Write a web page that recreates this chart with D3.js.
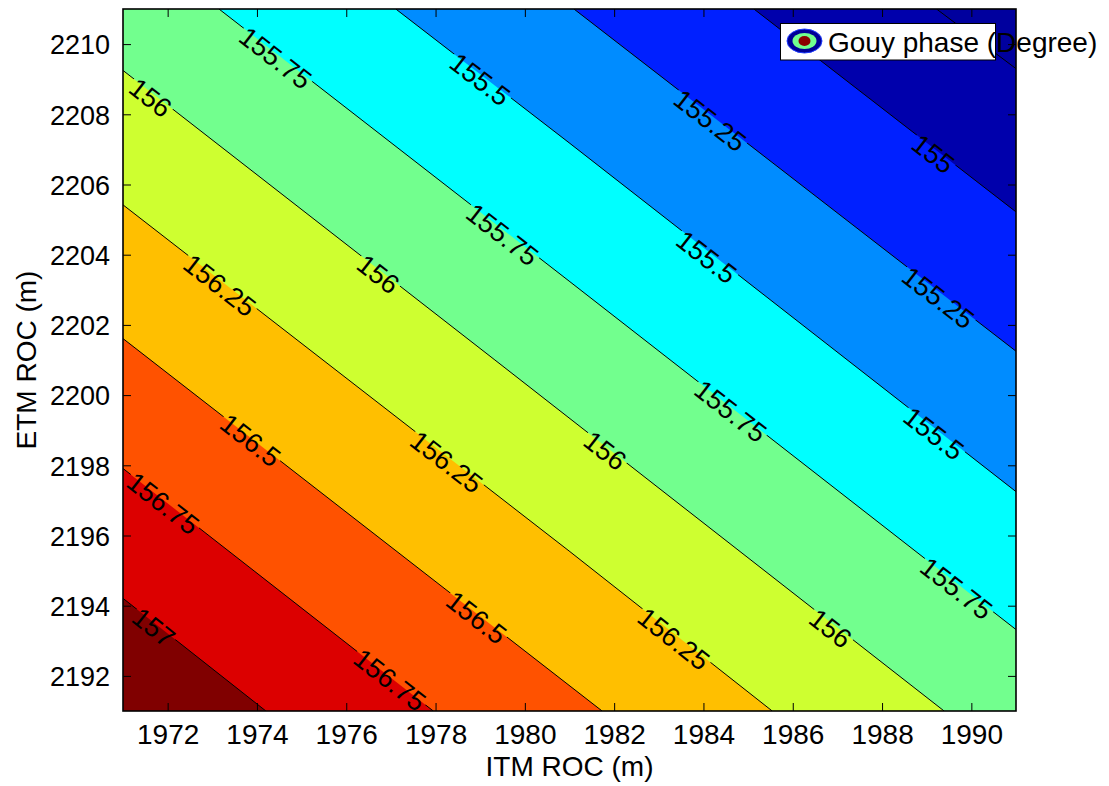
<!DOCTYPE html>
<html>
<head>
<meta charset="utf-8">
<script src="https://cdn.jsdelivr.net/npm/d3@7"></script>
<style>
  html, body { margin: 0; padding: 0; background: #ffffff; }
  svg { display: block; }
  text { font-family: 'Liberation Sans', Arial, Helvetica, sans-serif; fill: #000; }
</style>
</head>
<body>
<div id="chart"></div>
<script>
// ---------------- data ----------------
const levels = [154.75, 155, 155.25, 155.5, 155.75, 156, 156.25, 156.5, 156.75, 157];
// colour of the area below the first level, then the area above each level
const bandColors = ['#00009E', '#0000AC', '#0020FF', '#008CFF', '#00FFFF', '#72FF8E',
                    '#CEFF30', '#FFBF00', '#FF5200', '#DC0000', '#800000'];
// contour lines: ITM / ETM coordinates of the points along each level
const contourITM = [
  [1989.22, 1991],
  [1985.13, 1991],
  [1981.10, 1991],
  [1977.11, 1981.01, 1991],
  [1973.15, 1981.01, 1991],
  [1971, 1979.33, 1989.39],
  [1971, 1981.01, 1985.54],
  [1971, 1981.73],
  [1971, 1977.95],
  [1971, 1974.20]
];
const contourETM = [
  [2211, 2209.30],
  [2211, 2205.22],
  [2211, 2201.25],
  [2211, 2207.17, 2197.25],
  [2211, 2203.23, 2193.32],
  [2209.25, 2201.00, 2191],
  [2205.42, 2195.54, 2191],
  [2201.61, 2191],
  [2197.91, 2191],
  [2194.21, 2191]
];
// contour labels
const labelLevel = [155.75, 155.5, 156, 155.75, 156.25, 156, 155.25, 155, 155.5, 155.25,
                    156.5, 156.25, 156.75, 157, 156.5, 156.75, 155.75, 155.5, 156, 155.75, 156.25, 156];
const labelITM = [1974.42, 1979.00, 1971.62, 1979.50, 1973.17, 1976.72, 1984.15, 1989.15, 1984.07, 1989.26,
                  1973.86, 1978.25, 1971.90, 1971.69, 1978.92, 1976.98, 1984.61, 1989.16, 1981.80, 1989.67, 1983.34, 1986.85];
const labelETM = [2209.61, 2209.00, 2208.48, 2204.58, 2203.13, 2203.45, 2207.83, 2206.88, 2203.94, 2202.78,
                  2198.72, 2198.10, 2196.92, 2193.39, 2193.67, 2191.89, 2199.55, 2198.91, 2198.42, 2194.50, 2193.06, 2193.36];
const xTicks = [1972, 1974, 1976, 1978, 1980, 1982, 1984, 1986, 1988, 1990];
const yTicks = [2192, 2194, 2196, 2198, 2200, 2202, 2204, 2206, 2208, 2210];
const xDomain = [1971, 1991];
const yDomain = [2191, 2211];
const xTitle = 'ITM ROC (m)';
const yTitle = 'ETM ROC (m)';
const legendText = 'Gouy phase (Degree)';

// ---------------- layout ----------------
const W = 1109, H = 786;
const L = 123, R = 1016, T = 9, B = 711;
const x = d3.scaleLinear().domain(xDomain).range([L, R]);
const y = d3.scaleLinear().domain(yDomain).range([B, T]);

const svg = d3.select('#chart').append('svg').attr('width', W).attr('height', H);
svg.append('rect').attr('width', W).attr('height', H).attr('fill', '#fff');
const defs = svg.append('defs');
defs.append('clipPath').attr('id', 'plotclip')
  .append('rect').attr('x', L).attr('y', T).attr('width', R - L).attr('height', B - T);

const plot = svg.append('g').attr('clip-path', 'url(#plotclip)');

// filled bands
plot.append('rect').attr('x', L).attr('y', T).attr('width', R - L).attr('height', B - T)
  .attr('fill', bandColors[0]);

levels.forEach((lv, i) => {
  const pts = contourITM[i].map((xv, j) => [xv, contourETM[i][j]]);
  const start = pts[0], end = pts[pts.length - 1];
  const poly = pts.slice();
  if (end[0] >= xDomain[1]) poly.push([xDomain[1], yDomain[0]]);
  poly.push([xDomain[0], yDomain[0]]);
  if (start[1] >= yDomain[1]) poly.push([xDomain[0], yDomain[1]]);
  plot.append('path')
    .attr('d', 'M' + poly.map(p => x(p[0]) + ',' + y(p[1])).join('L') + 'Z')
    .attr('fill', bandColors[i + 1]);
});

// labels (measured first so their footprint can be masked out of the lines)
const mask = defs.append('mask').attr('id', 'lblmask')
  .attr('maskUnits', 'userSpaceOnUse').attr('x', 0).attr('y', 0).attr('width', W).attr('height', H);
mask.append('rect').attr('width', W).attr('height', H).attr('fill', '#fff');

const lineG = plot.append('g');
const labelG = plot.append('g');

function angleFor(level, px) {
  const i = levels.indexOf(level);
  const pts = contourITM[i].map((xv, j) => [x(xv), y(contourETM[i][j])]);
  let seg = 0;
  for (let k = 0; k < pts.length - 1; k++) { if (px >= pts[k][0]) seg = k; }
  const a = pts[seg], b = pts[seg + 1];
  return Math.atan2(b[1] - a[1], b[0] - a[0]) * 180 / Math.PI;
}

labelLevel.forEach((lv, i) => {
  const px = x(labelITM[i]), py = y(labelETM[i]);
  const ang = angleFor(lv, px);
  const t = labelG.append('text')
    .attr('transform', `translate(${px},${py}) rotate(${ang})`)
    .attr('text-anchor', 'middle')
    .attr('dy', '0.36em')
    .style('font-size', '27px')
    .text(String(lv));
  const w = t.node().getComputedTextLength();
  mask.append('rect')
    .attr('transform', `translate(${px},${py}) rotate(${ang})`)
    .attr('x', -w / 2 - 2).attr('y', -10).attr('width', w + 4).attr('height', 20)
    .attr('fill', '#000');
});

levels.forEach((lv, i) => {
  const pts = contourITM[i].map((xv, j) => [x(xv), y(contourETM[i][j])]);
  lineG.append('path')
    .attr('d', d3.line()(pts))
    .attr('fill', 'none').attr('stroke', '#000').attr('stroke-width', 1)
    .attr('mask', 'url(#lblmask)');
});

// axes with inward ticks on all four sides
const tick = 8;
const axB = svg.append('g').attr('transform', `translate(0,${B})`)
  .call(d3.axisBottom(x).tickValues(xTicks).tickSize(-tick).tickFormat(d3.format('d')));
const axT = svg.append('g').attr('transform', `translate(0,${T})`)
  .call(d3.axisTop(x).tickValues(xTicks).tickSize(-tick).tickFormat(''));
const axL = svg.append('g').attr('transform', `translate(${L},0)`)
  .call(d3.axisLeft(y).tickValues(yTicks).tickSize(-tick).tickFormat(d3.format('d')));
const axRt = svg.append('g').attr('transform', `translate(${R},0)`)
  .call(d3.axisRight(y).tickValues(yTicks).tickSize(-tick).tickFormat(''));
[axB, axT, axL, axRt].forEach(a => {
  a.select('.domain').remove();
  a.selectAll('line').attr('stroke', '#000').attr('stroke-width', 1);
  a.selectAll('text').style('font-size', '28px')
    .attr('font-family', null).style('font-family', "'Liberation Sans', Arial, sans-serif").attr('fill', '#000');
});
axB.selectAll('text').attr('y', 33).attr('dy', null);
axL.selectAll('text').style('font-size', '27px').attr('x', -13).attr('dy', '0.36em');

// frame
svg.append('rect').attr('x', L).attr('y', T).attr('width', R - L).attr('height', B - T)
  .attr('fill', 'none').attr('stroke', '#000').attr('stroke-width', 1.6);

// axis titles
svg.append('text').attr('x', (L + R) / 2).attr('y', 776).attr('text-anchor', 'middle')
  .style('font-size', '28px').text(xTitle);
svg.append('text').attr('transform', `translate(36,${(T + B) / 2}) rotate(-90)`)
  .attr('text-anchor', 'middle').style('font-size', '28px').text(yTitle);

// legend
const lg = svg.append('g');
lg.append('rect').attr('x', 780.5).attr('y', 23.5).attr('width', 215).attr('height', 36.5)
  .attr('fill', '#fff').attr('stroke', '#000').attr('stroke-width', 1);
lg.append('ellipse').attr('cx', 804.5).attr('cy', 41).attr('rx', 17.5).attr('ry', 12)
  .attr('fill', '#000096').attr('stroke', '#1E3CFF').attr('stroke-width', 1);
lg.append('ellipse').attr('cx', 804.5).attr('cy', 41).attr('rx', 12).attr('ry', 8)
  .attr('fill', '#72FF8E');
lg.append('ellipse').attr('cx', 804.5).attr('cy', 41).attr('rx', 6).attr('ry', 5)
  .attr('fill', '#8B0000');
lg.append('text').attr('x', 828).attr('y', 52).style('font-size', '28px').text(legendText);
</script>
</body>
</html>
